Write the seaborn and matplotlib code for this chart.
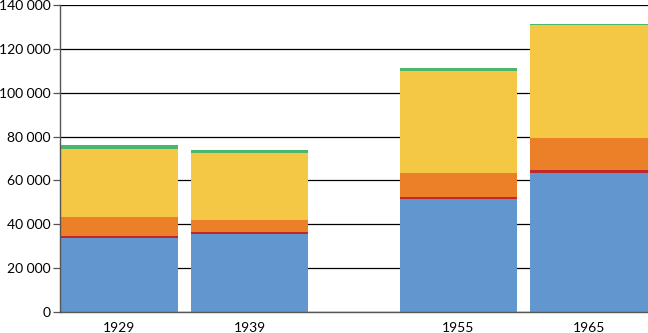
import numpy as np
import pandas as pd
import matplotlib
matplotlib.use("Agg")
import matplotlib.pyplot as plt
import seaborn as sns
from matplotlib.ticker import FuncFormatter, MultipleLocator

years = [1929, 1939, 1955, 1965]
blue = [33900, 35600, 51700, 63200]
red = [800, 900, 900, 1400]
orange = [8500, 5500, 10900, 14600]
yellow = [31100, 30500, 46400, 51800]
green = [1900, 1400, 1200, 300]

series = [blue, red, orange, yellow, green]
colors = ["#6196CE", "#C0282A", "#EC8028", "#F4C844", "#4CB76A"]

sns.set_style("white")
plt.rcParams['font.family'] = ['Lato', 'DejaVu Sans']

fig = plt.figure(figsize=(6.48, 3.33), dpi=100)
ax = fig.add_axes([60/648, 21/333, 588/648, 307/333])

cum = np.cumsum(np.array(series), axis=0)
# draw from the top layer down so lower layers cover upper ones
for i in range(len(series) - 1, -1, -1):
    df = pd.DataFrame({"year": years, "value": cum[i]})
    sns.barplot(data=df, x="year", y="value", native_scale=True, width=0.9,
                color=colors[i], saturation=1, linewidth=0, ax=ax, errorbar=None)

ax.set_xlim(1924.5, 1969.5)
ax.set_ylim(0, 140000)
ax.yaxis.set_major_locator(MultipleLocator(20000))
ax.yaxis.set_major_formatter(FuncFormatter(lambda v, p: f"{int(v):,}".replace(",", " ")))
ax.set_xticks(years)
ax.set_xticklabels([str(y) for y in years])
ax.set_xlabel("")
ax.set_ylabel("")

ax.grid(axis="y", color="black", linewidth=0.9)
ax.grid(axis="x", visible=False)
ax.set_axisbelow(True)

for s in ["top", "right"]:
    ax.spines[s].set_visible(False)
for s in ["left", "bottom"]:
    ax.spines[s].set_color("#555555")
    ax.spines[s].set_linewidth(1.0)

ax.tick_params(axis="y", which="both", left=True, length=5, width=0.9, color="#555555",
               pad=2, labelsize=10, labelcolor="black")
ax.tick_params(axis="x", which="both", bottom=False, length=0, pad=7, labelsize=10,
               labelcolor="black")

fig.savefig("out.png", dpi=100)
